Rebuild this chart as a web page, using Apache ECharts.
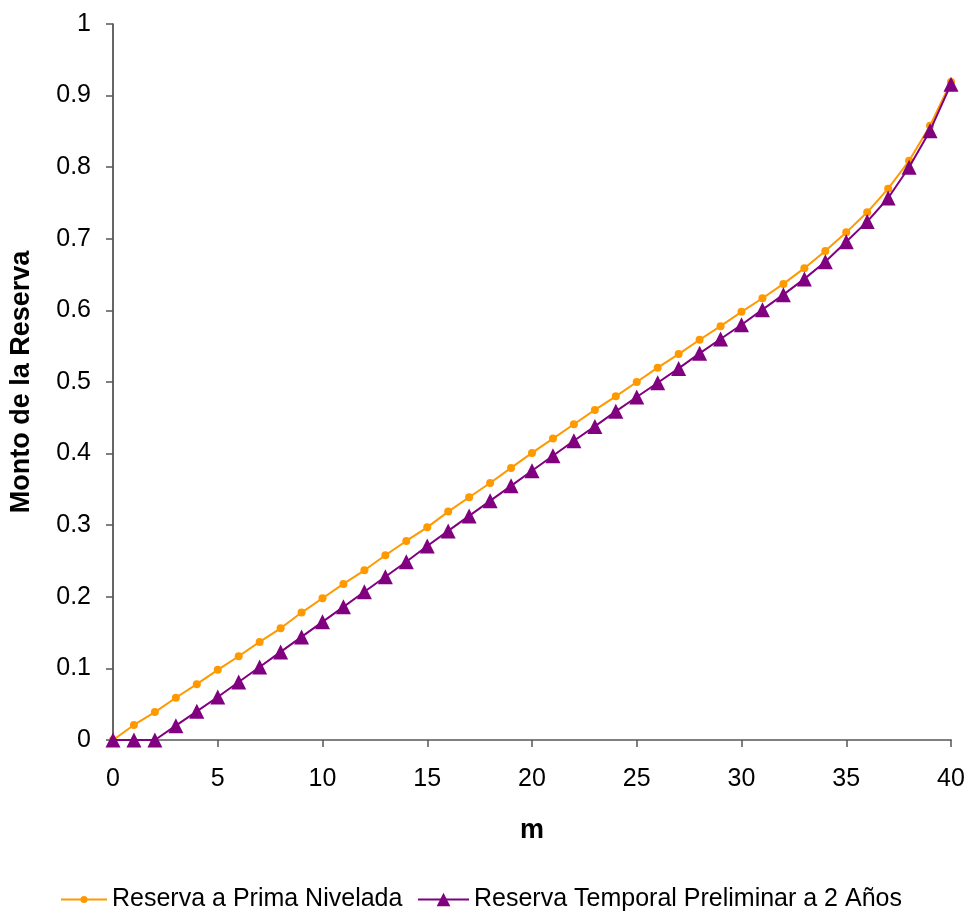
<!DOCTYPE html>
<html>
<head>
<meta charset="utf-8">
<script src="https://cdn.jsdelivr.net/npm/echarts@6/dist/echarts.min.js"></script>
<style>
  html, body { margin: 0; padding: 0; background: #fff; }
  #chart { width: 971px; height: 911px; }
</style>
</head>
<body>
<div id="chart"></div>
<script>
// Year index m (0..40)
const years = Array.from({ length: 41 }, (_, i) => i);

// Level-premium reserve
const reservaPrimaNivelada = [
  0, 0.021, 0.039, 0.059, 0.078, 0.098, 0.117, 0.137, 0.156, 0.178,
  0.198, 0.218, 0.237, 0.258, 0.278, 0.297, 0.319, 0.339, 0.359, 0.380,
  0.401, 0.421, 0.441, 0.461, 0.480, 0.500, 0.520, 0.539, 0.559, 0.578,
  0.598, 0.617, 0.637, 0.659, 0.683, 0.709, 0.737, 0.770, 0.809, 0.858,
  0.919
];

// Preliminary-term reserve (2 years)
const reservaTemporal = [
  0, 0, 0, 0.020, 0.040, 0.060, 0.081, 0.102, 0.123, 0.144,
  0.165, 0.186, 0.207, 0.228, 0.249, 0.271, 0.292, 0.313, 0.334, 0.355,
  0.376, 0.397, 0.418, 0.438, 0.459, 0.479, 0.499, 0.519, 0.540, 0.560,
  0.580, 0.601, 0.622, 0.644, 0.668, 0.696, 0.724, 0.757, 0.800, 0.851,
  0.916
];

const xTicks = { min: 0, max: 40, interval: 5 };
const yTicks = { min: 0, max: 1, interval: 0.1 };

const seriesNames = ['Reserva a Prima Nivelada', 'Reserva Temporal Preliminar a 2 Años'];

const font = 'Liberation Sans, Arial, Helvetica, sans-serif';
const ORANGE = '#FF9900';
const PURPLE = '#800080';

const chart = echarts.init(document.getElementById('chart'), null, { renderer: 'canvas' });

// Two legend blocks so each key can carry its own marker size
const legendBase = {
  top: 882,
  itemGap: 0,
  textStyle: { fontSize: 25, color: '#000', fontFamily: font }
};

chart.setOption({
  animation: false,
  backgroundColor: '#ffffff',
  textStyle: { fontFamily: font },
  grid: { left: 110, right: 20, top: 24, bottom: 171, containLabel: false },
  legend: [
    Object.assign({}, legendBase, {
      left: 55, itemWidth: 46, itemHeight: 9, data: [seriesNames[0]]
    }),
    Object.assign({}, legendBase, {
      left: 412, itemWidth: 51, itemHeight: 17, data: [seriesNames[1]]
    })
  ],
  xAxis: {
    type: 'value',
    min: xTicks.min,
    max: xTicks.max,
    interval: xTicks.interval,
    name: 'm',
    nameLocation: 'middle',
    nameGap: 77,
    nameTextStyle: { fontSize: 27, fontWeight: 'bold', color: '#000' },
    axisLine: { show: true, lineStyle: { color: '#808080', width: 2 } },
    axisTick: { show: true, length: 7, lineStyle: { color: '#555', width: 1.5 } },
    axisLabel: { fontSize: 25, color: '#000', margin: 27 },
    splitLine: { show: false }
  },
  yAxis: {
    type: 'value',
    min: yTicks.min,
    max: yTicks.max,
    interval: yTicks.interval,
    name: 'Monto de la Reserva',
    nameLocation: 'middle',
    nameGap: 78,
    nameTextStyle: { fontSize: 27, fontWeight: 'bold', color: '#000' },
    axisLine: { show: true, lineStyle: { color: '#333', width: 1.5 } },
    axisTick: { show: true, length: 7, lineStyle: { color: '#555', width: 1.5 } },
    axisLabel: { fontSize: 25, color: '#000', margin: 22 },
    splitLine: { show: false }
  },
  series: [
    {
      name: seriesNames[0],
      type: 'line',
      data: years.map((m, i) => [m, reservaPrimaNivelada[i]]),
      symbol: 'circle',
      symbolSize: 8,
      showSymbol: true,
      lineStyle: { color: ORANGE, width: 2 },
      itemStyle: { color: ORANGE },
      z: 2
    },
    {
      name: seriesNames[1],
      type: 'line',
      data: years.map((m, i) => [m, reservaTemporal[i]]),
      symbol: 'triangle',
      symbolSize: 15,
      showSymbol: true,
      lineStyle: { color: PURPLE, width: 2 },
      itemStyle: { color: PURPLE },
      z: 3
    }
  ]
});
</script>
</body>
</html>
